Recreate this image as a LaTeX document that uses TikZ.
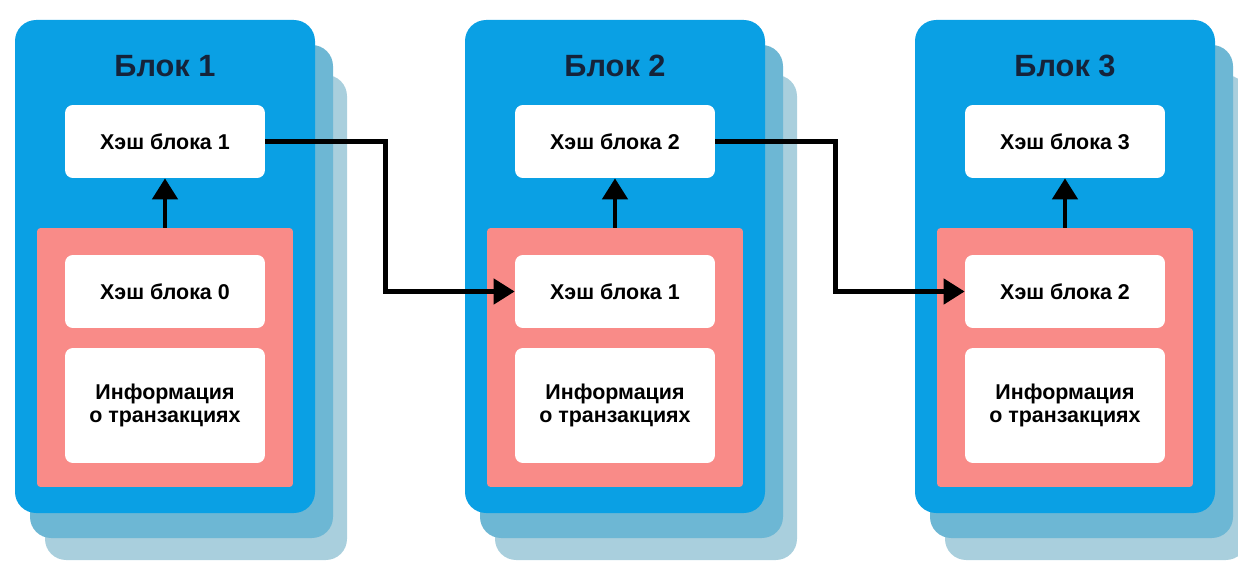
\documentclass[tikz,border=0pt]{standalone}
\usepackage{fontspec}
\setmainfont{Liberation Sans}
\usetikzlibrary{arrows.meta}
\definecolor{blockblue}{HTML}{0AA0E4}
\definecolor{shadowA}{HTML}{6DB7D4}
\definecolor{shadowB}{HTML}{A9CFDD}
\definecolor{txpink}{HTML}{F98B88}
\definecolor{titleink}{HTML}{15233A}
\tikzset{
  blocktitle/.style={text=titleink,font=\fontsize{17.5}{20}\selectfont\bfseries},
  hashbox/.style={fill=white,rounded corners=4.5pt,minimum width=4cm,minimum height=1.46cm,font=\fontsize{12.2}{14.5}\selectfont\bfseries},
  infobox/.style={hashbox,minimum height=2.3cm,align=center},
  txbox/.style={fill=txpink,rounded corners=2pt,minimum width=5.12cm,minimum height=5.18cm},
  link/.style={line width=2.6pt,-{Triangle[length=0.42cm,width=0.5cm]}}
}
\begin{document}
\begin{tikzpicture}[x=0.02cm,y=-0.02cm]
\useasboundingbox (0,0) rectangle (1238,564);
\foreach \i/\p/\dx in {1/0/0,2/1/450,3/2/900}{
  % stacked shadows behind the block
  \fill[shadowB,rounded corners=12pt] (45+\dx,75) rectangle (347+\dx,560);
  \fill[shadowA,rounded corners=12pt] (30+\dx,45) rectangle (333+\dx,538);
  \fill[blockblue,rounded corners=12pt] (15+\dx,20) rectangle (315+\dx,513);
  \node[blocktitle] (title\i) at (165+\dx,66) {Блок \i};
  \node[hashbox] (hash\i) at (165+\dx,141.5) {Хэш блока \i};
  \node[txbox] (tx\i) at (165+\dx,357.5) {};
  \node[hashbox] (prev\i) at (165+\dx,291.5) {Хэш блока \p};
  \node[infobox] (info\i) at (165+\dx,405.5) {Информация\\[-1pt]о транзакциях};
  \draw[link] (tx\i.north) -- (hash\i.south);
}
\draw[link] (hash1.east) -- ++(120,0) |- (prev2.west);
\draw[link] (hash2.east) -- ++(120,0) |- (prev3.west);
\end{tikzpicture}
\end{document}
